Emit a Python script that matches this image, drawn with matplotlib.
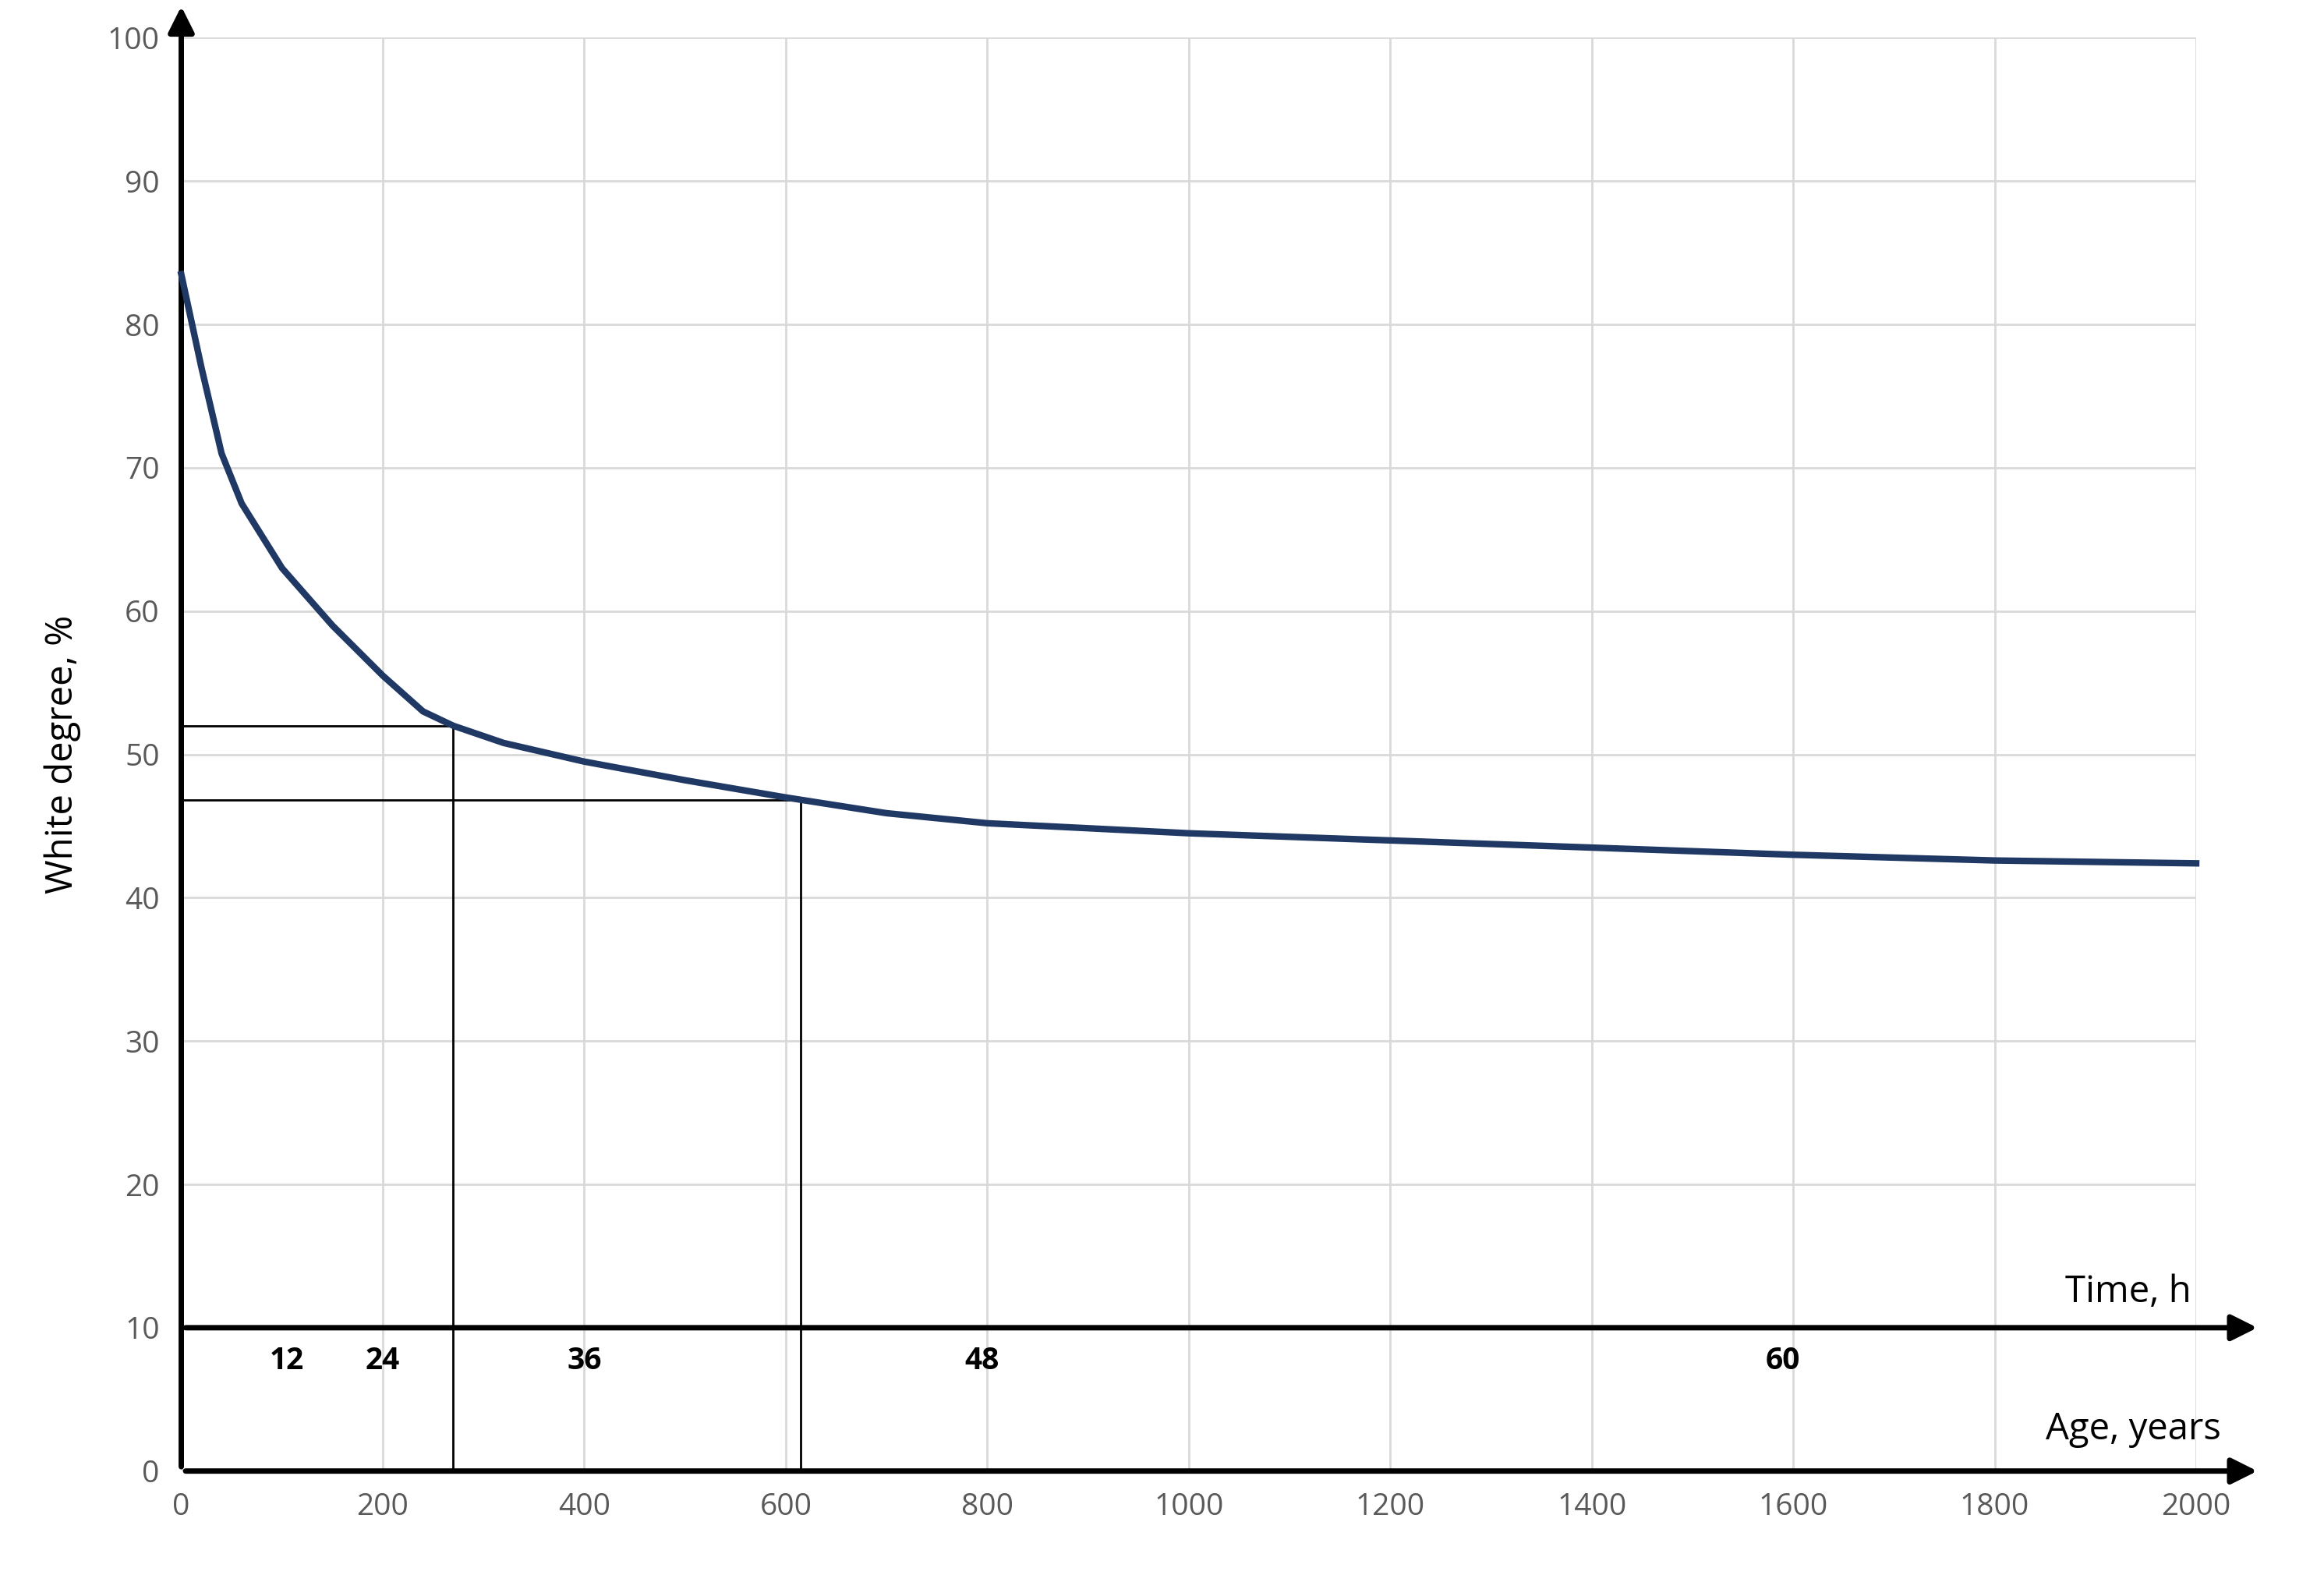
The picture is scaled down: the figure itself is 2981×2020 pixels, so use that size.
import matplotlib.pyplot as plt
import numpy as np

time_h = [0, 20, 40, 60, 100, 150, 200, 240, 270, 320, 400, 500, 600, 700, 800, 1000, 1200, 1400, 1600, 1800, 2000]
white = [83.5, 77, 71, 67.5, 63, 59, 55.5, 53, 52, 50.8, 49.5, 48.2, 47.0, 45.9, 45.2, 44.5, 44.0, 43.5, 43.0, 42.6, 42.4]
age_labels = ['12', '24', '36', '48', '60']
age_pos = [105, 200, 400, 795, 1590]
marks = [(270, 52.0), (615, 46.8)]

plt.rcParams['font.family'] = ['Open Sans', 'DejaVu Sans']
fig = plt.figure(figsize=(14.905, 10.1), dpi=200)
ax = fig.add_axes([0.078, 0.066, 0.867, 0.91])
ax.set_xlim(0, 2000)
ax.set_ylim(0, 100)
ax.set_xticks(range(0, 2001, 200))
ax.set_yticks(range(0, 101, 10))
ax.grid(True, color='#d9d9d9', lw=1)
for s in ax.spines.values():
    s.set_visible(False)
ax.tick_params(length=0, labelsize=14, colors='#595959', pad=10)

ax.plot(time_h, white, color='#1f3864', lw=3, zorder=5, clip_on=False)
for x, y in marks:
    ax.plot([0, x], [y, y], color='black', lw=1)
    ax.plot([x, x], [y, 0], color='black', lw=1)

arrow = dict(arrowstyle='-|>', color='black', lw=2.5, mutation_scale=25)
ax.annotate('', xy=(0, 102.5), xytext=(0, 0), arrowprops=arrow, annotation_clip=False)
ax.annotate('', xy=(2065, 10), xytext=(0, 10), arrowprops=arrow, annotation_clip=False)
ax.annotate('', xy=(2065, 0), xytext=(0, 0), arrowprops=arrow, annotation_clip=False)

ax.text(1995, 11.2, 'Time, h', ha='right', va='bottom', fontsize=17)
ax.text(2025, 1.6, 'Age, years', ha='right', va='bottom', fontsize=17)
for lab, x in zip(age_labels, age_pos):
    ax.text(x, 7.7, lab, ha='center', va='center', fontsize=14, fontweight='bold')

ax.set_ylabel('White degree, %', fontsize=17, labelpad=12)
fig.savefig('out.png')
